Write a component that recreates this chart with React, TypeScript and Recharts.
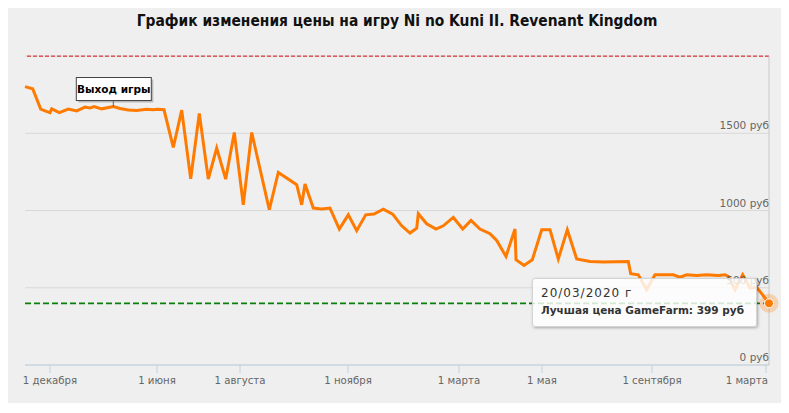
import React from 'react';
import {
  LineChart,
  Line,
  XAxis,
  YAxis,
  CartesianGrid,
  ReferenceLine,
  ReferenceDot,
  Tooltip,
} from 'recharts';

const title = 'График изменения цены на игру Ni no Kuni II. Revenant Kingdom';

const positions = [
  0, 7.7, 15.7, 20, 25, 26.7, 34.3, 43.3, 51.7, 60, 65, 69, 76.7, 88.3, 95, 103.3,
  111.7, 121.7, 128.3, 132.3, 139, 148.3, 156.7, 165.7, 174.3, 183.3, 191.7, 200.7,
  209.3, 218.3, 226.7, 244.3, 253.3, 271.7, 276.7, 280, 288.3, 296.7, 305, 314.3,
  323.3, 331.7, 340.7, 349, 358.3, 367.7, 376.7, 385, 391.7, 393.3, 401.7, 411,
  418.3, 428.3, 437.7, 446, 455, 465, 471.7, 481, 490, 491, 499, 507.3, 516.7, 525,
  533.3, 542.3, 551.7, 565, 578.3, 591, 603.3, 605.7, 613.3, 621.7, 630, 648.3, 655,
  661.7, 671.7, 681.7, 693.3, 700, 703.3, 710, 717.7, 725, 731.7, 735, 744,
];

// best price, roubles
const prices = [
  1802, 1788, 1656, 1645, 1634, 1658, 1634, 1656, 1645, 1669, 1663, 1673, 1658, 1673,
  1660, 1650, 1647, 1656, 1652, 1656, 1652, 1408, 1650, 1205, 1628, 1204, 1404, 1203,
  1505, 1037, 1505, 1005, 1246, 1167, 1037, 1171, 1016, 1009, 1016, 880, 972, 869,
  972, 977, 1009, 977, 901, 854, 886, 979, 914, 880, 901, 955, 880, 936, 880, 850,
  806, 703, 880, 681, 644, 681, 875, 875, 686, 875, 686, 670, 666, 668, 670, 591,
  584, 487, 584, 584, 569, 584, 580, 584, 580, 584, 573, 487, 584, 498, 502, 476, 399,
];

const tickPositions = [25, 132, 215, 323, 434, 517, 627, 741];
const tickLabels = [
  '1 декабря',
  '1 июня',
  '1 августа',
  '1 ноября',
  '1 марта',
  '1 мая',
  '1 сентября',
  '1 марта',
];
const priceTicks = [0, 500, 1000, 1500];
const maxPrice = 1999;
const bestPrice = 399;
const lastDate = '20/03/2020 г';
const shopName = 'GameFarm';
const release = { pos: 88.3, price: 1673, label: 'Выход игры' };

const data = positions.map((pos, i) => ({ pos, price: prices[i] }));

const FONT = "'DejaVu Sans', Verdana, sans-serif";
const ORANGE = '#ff7a00';

const PriceTick = (props: any) => {
  const { x, y, payload } = props;
  return (
    <text x={x} y={y - 4} textAnchor="end" fill="#666" fontSize={10.5} fontFamily={FONT}>
      {payload.value} руб
    </text>
  );
};

const DateTick = (props: any) => {
  const { x, y, payload } = props;
  const idx = tickPositions.indexOf(payload.value);
  const isLast = idx === tickPositions.length - 1;
  return (
    <text
      x={isLast ? x + 2 : x}
      y={y}
      dy="0.71em"
      textAnchor={isLast ? 'end' : 'middle'}
      fill="#666"
      fontSize={10.2}
      fontFamily={FONT}
    >
      {idx >= 0 ? tickLabels[idx] : ''}
    </text>
  );
};

const ReleaseFlag = (props: any) => {
  const { cx, cy } = props;
  if (cx == null || cy == null) return null;
  const w = 75;
  const h = 23;
  const bx = cx - 37;
  const by = cy - 29;
  return (
    <g>
      <rect x={bx + 2} y={by + 2} width={w} height={h} fill="rgba(0,0,0,0.22)" />
      <rect x={bx} y={by} width={w} height={h} fill="#fff" stroke="#444" strokeWidth={1} />
      <line x1={cx} y1={by + h} x2={cx} y2={cy} stroke="#666" strokeWidth={1} />
      <text
        x={bx + w / 2}
        y={by + 15.5}
        textAnchor="middle"
        fontSize={10.5}
        fontWeight="bold"
        fill="#000"
        fontFamily={FONT}
      >
        {release.label}
      </text>
    </g>
  );
};

const TooltipBox = (props: any) => {
  const { active, payload } = props;
  if (!active || !payload || !payload.length) return null;
  const p = payload[0].payload;
  return (
    <div
      style={{
        width: 225,
        height: 49,
        boxSizing: 'border-box',
        background: 'rgba(255,255,255,0.82)',
        border: '1px solid #d4d4d4',
        borderRadius: 3,
        boxShadow: '1px 1px 3px rgba(0,0,0,0.3)',
        padding: '6px 0 0 8px',
        fontFamily: FONT,
        color: '#333',
      }}
    >
      <div style={{ fontSize: 12, lineHeight: '17px', letterSpacing: 1, whiteSpace: 'nowrap' }}>{lastDate}</div>
      <div style={{ fontSize: 10.5, fontWeight: 'bold', lineHeight: '16px', whiteSpace: 'nowrap' }}>
        Лучшая цена {shopName}: {p.price} руб
      </div>
    </div>
  );
};

const ActiveDot = (props: any) => {
  const { cx, cy } = props;
  if (cx == null || cy == null) return null;
  return (
    <g>
      <circle cx={cx} cy={cy} r={9.5} fill={ORANGE} fillOpacity={0.25} />
      <circle cx={cx} cy={cy} r={4.5} fill={ORANGE} stroke="#fff" strokeWidth={1} />
    </g>
  );
};

export default function App() {
  return (
    <div style={{ position: 'relative', width: 778, height: 395, background: '#efefef' }}>
      <div
        style={{
          position: 'absolute',
          left: 0,
          top: 3,
          width: 778,
          textAlign: 'center',
          fontFamily: "'DejaVu Sans Condensed', 'DejaVu Sans', sans-serif",
          fontStretch: 'condensed',
          fontWeight: 'bold',
          fontSize: 15.4,
          lineHeight: '20px',
          color: '#111',
          zIndex: 2,
        }}
      >
        {title}
      </div>
      <LineChart
        width={778}
        height={395}
        data={data}
        margin={{ top: 48, right: 17, bottom: 8, left: 17 }}
      >
        <CartesianGrid horizontal vertical={false} stroke="#d8d8d8" />
        <XAxis
          dataKey="pos"
          type="number"
          domain={[0, 744]}
          ticks={tickPositions}
          interval={0}
          height={30}
          axisLine={{ stroke: '#c0d0e0' }}
          tickLine={{ stroke: '#c0d0e0' }}
          tickSize={8}
          tickMargin={4}
          tick={<DateTick />}
        />
        <YAxis
          orientation="right"
          mirror
          width={60}
          domain={[0, 2000]}
          ticks={priceTicks}
          interval={0}
          axisLine={{ stroke: '#c8c8c8' }}
          tickLine={false}
          tickSize={0}
          tickMargin={0}
          tick={<PriceTick />}
        />
        <ReferenceLine y={maxPrice} stroke="#d41010" strokeDasharray="4 2" strokeWidth={1} />
        <ReferenceLine y={bestPrice} stroke="#0a800a" strokeDasharray="6 3" strokeWidth={1.7} />
        <Line
          type="linear"
          dataKey="price"
          stroke={ORANGE}
          strokeWidth={3}
          dot={false}
          activeDot={<ActiveDot />}
          isAnimationActive={false}
        />
        <ReferenceDot x={release.pos} y={release.price} r={0} shape={<ReleaseFlag />} />
        <Tooltip
          content={<TooltipBox />}
          defaultIndex={prices.length - 1}
          active
          cursor={false}
          position={{ x: 524, y: 270 }}
          isAnimationActive={false}
          wrapperStyle={{ outline: 'none' }}
        />
      </LineChart>
    </div>
  );
}
